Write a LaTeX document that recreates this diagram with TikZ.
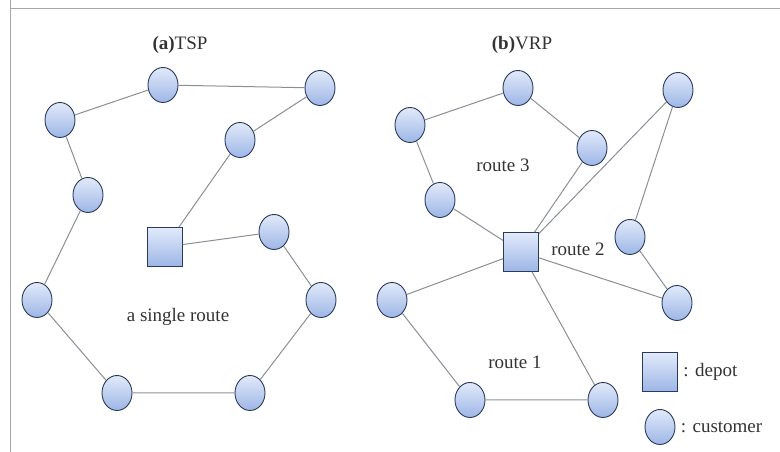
\documentclass[tikz,border=0pt]{standalone}
\usepackage{fontspec}
\setmainfont{Liberation Serif}
\usepackage{tikz}
\usetikzlibrary{calc,positioning,shapes.geometric}
\usepackage{xcolor}
\definecolor{nodeedge}{HTML}{2A3A5A}
\definecolor{nodetop}{HTML}{E2EAFA}
\definecolor{nodebot}{HTML}{9DB6E6}
\definecolor{routeline}{HTML}{8A8F96}

\begin{document}
\begin{tikzpicture}[x=1pt,y=1pt,
  customer/.style={ellipse,inner sep=0pt,minimum width=30pt,minimum height=35pt,
    draw=nodeedge,line width=0.9pt,top color=nodetop,bottom color=nodebot},
  depot/.style={rectangle,inner sep=0pt,minimum width=35pt,minimum height=39pt,
    draw=nodeedge,line width=0.9pt,top color=nodetop,bottom color=nodebot},
  route/.style={draw=routeline,line width=1pt},
  lbl/.style={font=\fontsize{19}{21}\selectfont,text=black!80}]
  \useasboundingbox (0,0) rectangle (780,452);
  \draw[gray!70,line width=1pt] (10,452) -- (10,0);
  \draw[gray!70,line width=1pt] (10,443) -- (780,443);
  % (a) TSP
  \node[lbl] (ttsp) at (180,407) {\textbf{(a)}TSP};
  \node[customer] (a1) at (163,367) {};
  \node[customer] (a2) at (320,364) {};
  \node[customer] (a3) at (60,332) {};
  \node[customer] (a4) at (240,312) {};
  \node[customer] (a5) at (88,257) {};
  \node[depot] (ad) at (165,205) {};
  \node[customer] (a6) at (274,220) {};
  \node[customer] (a7) at (37,152) {};
  \node[customer] (a8) at (321,152) {};
  \node[customer] (a9) at (117,59) {};
  \node[customer] (a10) at (250,59) {};
  \node[lbl] (asingle) at (178,135) {a single route};
  \draw[route] (a3)--(a1)--(a2)--(a4)--(ad)--(a6)--(a8)--(a10)--(a9)--(a7)--(a5)--(a3);
  % (b) VRP
  \node[lbl] (tvrp) at (522,407) {\textbf{(b)}VRP};
  \node[customer] (b1) at (410,327) {};
  \node[customer] (b2) at (518,364) {};
  \node[customer] (b3) at (592,304) {};
  \node[customer] (b4) at (678,362) {};
  \node[customer] (b5) at (440,252) {};
  \node[depot] (bd) at (521,200) {};
  \node[customer] (b6) at (630,215) {};
  \node[customer] (b7) at (392,152) {};
  \node[customer] (b8) at (677,149) {};
  \node[customer] (b9) at (470,52) {};
  \node[customer] (b10) at (603,52) {};
  \node[lbl] (r3) at (503,287) {route 3};
  \node[lbl] (r2) at (578,203) {route 2};
  \node[lbl] (r1) at (515,90) {route 1};
  \draw[route] (bd)--(b5)--(b1)--(b2)--(b3)--(bd);
  \draw[route] (bd)--(b4)--(b6)--(b8)--(bd);
  \draw[route] (bd)--(b7)--(b9)--(b10)--(bd);
  % legend
  \node[depot] (ldepot) at (660,80) {};
  \node[lbl,right=2pt of ldepot] (tdepot) {: depot};
  \node[customer] (lcust) at (660,25) {};
  \node[lbl,right=2pt of lcust] (tcust) {: customer};
\end{tikzpicture}
\end{document}
